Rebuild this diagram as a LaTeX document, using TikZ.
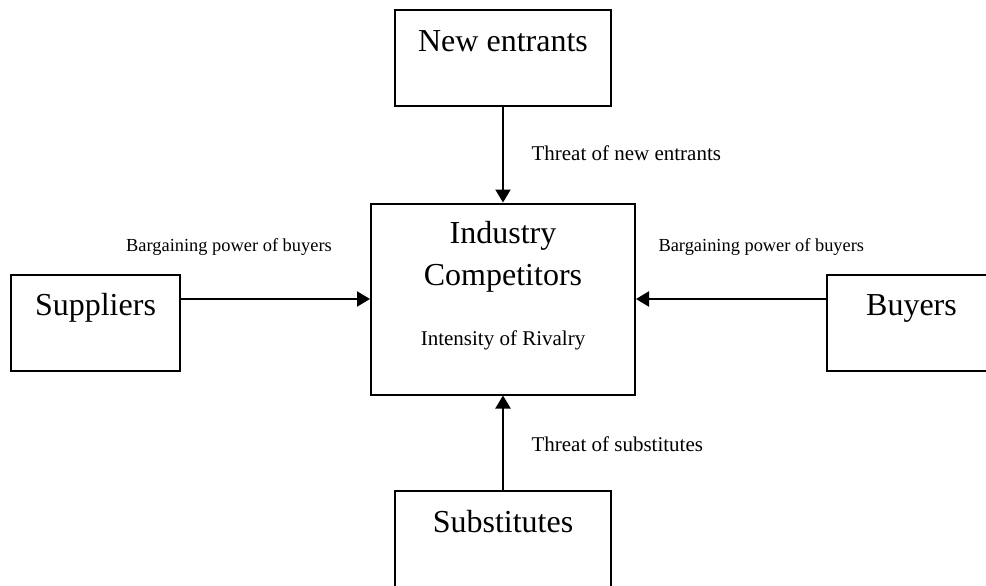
\documentclass[tikz,border=0pt]{standalone}
\usepackage{fontspec}
\setmainfont{Liberation Serif}
\usetikzlibrary{arrows.meta}

\begin{document}
\begin{tikzpicture}[x=1pt,y=-1pt,
        force/.style={draw,line width=2pt,inner sep=0pt,minimum height=96pt,
            text height=41pt,text depth=55pt,font=\fontsize{32}{38}\selectfont},
        push/.style={line width=2pt,-{Triangle[width=15pt,length=13pt]}},
        note/.style={font=\fontsize{21}{25}\selectfont},
        small note/.style={font=\fontsize{18.4}{22}\selectfont}]
        \useasboundingbox (0,0) rectangle (986,586);
        \clip (0,0) rectangle (986,586);
        %% the outer forces
        \node[force,minimum width=216pt] (entrants) at (503,58.5) {New entrants};
        \node[force,minimum width=169pt] (suppliers) at (95.5,322.5) {Suppliers};
        \node[force,minimum width=169pt] (buyers) at (911.5,322.5) {Buyers};
        \node[force,minimum width=216pt] (substitutes) at (503,539) {Substitutes};
        %% the industry in the middle
        \node[draw,line width=2pt,inner sep=0pt,minimum width=264pt,align=center,
            text height=82pt,text depth=109pt,font=\fontsize{32}{42}\selectfont]
            (rivals) at (503,299) {Industry\\Competitors};
        \node[note,anchor=base] (rivalry) at (503,345) {Intensity of Rivalry};
        %% pressures
        \draw[push] (entrants) -- (rivals);
        \draw[push] (substitutes) -- (rivals);
        \draw[push] (rivals.west -| suppliers.east) -- (rivals.west);
        \draw[push] (rivals.east -| buyers.west) -- (rivals.east);
        %% labels
        \node[note,anchor=base west] (threatnew) at (528,160) {Threat of new entrants};
        \node[note,anchor=base west] (threatsub) at (528,451) {Threat of substitutes};
        \node[small note,anchor=base] (powerleft) at (229,251) {Bargaining power of buyers};
        \node[small note,anchor=base west] (powerright) at (655,251) {Bargaining power of buyers};
    \end{tikzpicture}
\end{document}
